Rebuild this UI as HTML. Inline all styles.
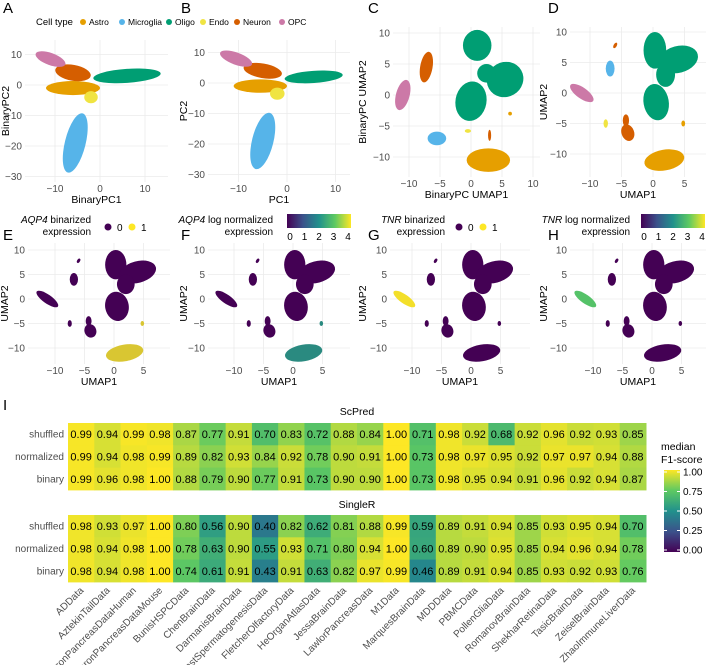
<!DOCTYPE html>
<html><head><meta charset="utf-8"><style>
body{margin:0;background:#fff}
svg{display:block;font-family:"Liberation Sans",Arial,sans-serif}
.tk{font-size:10px;fill:#4d4d4d}
.at{font-size:10.5px;fill:#000}
.pl{font-size:15px;fill:#000}
</style></head><body>
<svg id="fig" width="708" height="665" viewBox="0 0 708 665" xmlns="http://www.w3.org/2000/svg">
<g id="topg"></g><g id="mid"></g><g id="heat"></g>
</svg>
<script>
const NS="http://www.w3.org/2000/svg";
const COL={Astro:"#E69F00",Microglia:"#56B4E9",Oligo:"#009E73",Endo:"#F0E442",Neuron:"#D55E00",OPC:"#CC79A7"};
const datasets=["ADData","AztekinTailData","BaronPancreasDataHuman","BaronPancreasDataMouse","BunisHSPCData","ChenBrainData","DarmanisBrainData","ErnstSpermatogenesisData","FletcherOlfactoryData","HeOrganAtlasData","JessaBrainData","LawlorPancreasData","M1Data","MarquesBrainData","MDDData","PBMCData","PollenGliaData","RomanovBrainData","ShekharRetinaData","TasicBrainData","ZeiselBrainData","ZhaoImmuneLiverData"];
const rowNames=["shuffled","normalized","binary"];
const scpredShuffled=[0.99,0.94,0.99,0.98,0.87,0.77,0.91,0.70,0.83,0.72,0.88,0.84,1.00,0.71,0.98,0.92,0.68,0.92,0.96,0.92,0.93,0.85];
const scpredNormalized=[0.99,0.94,0.98,0.99,0.89,0.82,0.93,0.84,0.92,0.78,0.90,0.91,1.00,0.73,0.98,0.97,0.95,0.92,0.97,0.97,0.94,0.88];
const scpredBinary=[0.99,0.96,0.98,1.00,0.88,0.79,0.90,0.77,0.91,0.73,0.90,0.90,1.00,0.73,0.98,0.95,0.94,0.91,0.96,0.92,0.94,0.87];
const singlerShuffled=[0.98,0.93,0.97,1.00,0.80,0.56,0.90,0.40,0.82,0.62,0.81,0.88,0.99,0.59,0.89,0.91,0.94,0.85,0.93,0.95,0.94,0.70];
const singlerNormalized=[0.98,0.94,0.98,1.00,0.78,0.63,0.90,0.55,0.93,0.71,0.80,0.94,1.00,0.60,0.89,0.90,0.95,0.85,0.94,0.96,0.94,0.78];
const singlerBinary=[0.98,0.94,0.98,1.00,0.74,0.61,0.91,0.43,0.91,0.63,0.82,0.97,0.99,0.46,0.89,0.91,0.94,0.85,0.93,0.92,0.93,0.76];
const legendTicks=[0,0.25,0.5,0.75,1];
const pcaCx=[-5.5,-6,-2,6,-6,-11];
const pcaCy=[-19,-1,-4,3,4,8.5];
const pcaRx=[2.3,6,1.5,7.5,4,3.5];
const pcaRy=[10,2.3,2,2.3,2.6,2];
const pcaAng=[-14,0,0,4,-10,-20];
const pcaType=["Microglia","Astro","Endo","Oligo","Neuron","OPC"];
const pcaBCx=[-5,-5.5,-2,5.5,-5,-10.5];
const pcaBCy=[-19,-1,-3.5,2,4,8];
const pcaBRx=[2.2,5.5,1.5,6,4,3.5];
const pcaBRy=[9.5,2.2,2,2,2.4,2];
const umapCx=[0.3,4,0.5,2,1.8,-11.3,-6.8,-4,-4.3,-7.5,-6,4.8];
const umapCy=[7,5.5,-1.5,3,-11,0,4,-6.5,-4.5,-5,7.8,-5];
const umapRx=[1.8,3.2,2,1.5,3.2,2.2,0.7,1,0.5,0.35,0.25,0.3];
const umapRy=[3,2.2,3,2,1.7,0.9,1.3,1.4,1,0.7,0.5,0.5];
const umapAng=[0,15,10,0,10,-35,0,20,0,0,-30,0];
const umapType=["Oligo","Oligo","Oligo","Oligo","Astro","OPC","Microglia","Neuron","Neuron","Endo","Neuron","Astro"];
const bumapCx=[1,5.5,0,2.5,2.8,-11,-7.2,-5.5,-0.5,3,6.3];
const bumapCy=[8,2.5,-1,3.5,-10.5,0,4.5,-7,-5.8,-6.5,-3];
const bumapRx=[2.3,3,2.5,1.5,3.5,1.1,1,1.5,0.5,0.25,0.3];
const bumapRy=[2.5,2.8,3.2,1.5,1.9,2.5,2.5,1.1,0.3,0.9,0.3];
const bumapAng=[0,30,-10,0,0,-15,-10,0,0,0,0];
const bumapType=["Oligo","Oligo","Oligo","Oligo","Astro","OPC","Neuron","Microglia","Endo","Neuron","Astro"];
const cellTypes=["Astro","Microglia","Oligo","Endo","Neuron","OPC"];

function el(tag,attrs,parent,txt){const e=document.createElementNS(NS,tag);for(const k in attrs)e.setAttribute(k,attrs[k]);if(txt!==undefined)e.textContent=txt;parent.appendChild(e);return e;}
const VIR=[[68,1,84],[59,82,139],[33,145,140],[94,201,98],[253,231,37]];
function viridis(t){t=Math.max(0,Math.min(1,t));const s=t*4,i=Math.min(3,Math.floor(s)),f=s-i;const a=VIR[i],b=VIR[i+1];return `rgb(${a.map((v,k)=>Math.round(v+(b[k]-v)*f)).join(",")})`;}

function panel(g,cfg){
  const sx=v=>cfg.x0+v*cfg.xs, sy=v=>cfg.y0-v*cfg.ys;
  const grid=el("g",{},g);
  
  
  cfg.xt.forEach(v=>{el("line",{x1:sx(v),x2:sx(v),y1:cfg.ptop,y2:cfg.bot,stroke:"#ebebeb","stroke-width":0.8},grid);
    const t=el("text",{x:sx(v),y:cfg.bot+10,"text-anchor":"middle",class:"tk"},g,String(v).replace("-","−"));
    });
  cfg.yt.forEach(v=>{el("line",{x1:cfg.left,x2:cfg.right,y1:sy(v),y2:sy(v),stroke:"#ebebeb","stroke-width":0.8},grid);
    const t=el("text",{x:cfg.left-3,y:sy(v)+3.5,"text-anchor":"end",class:"tk"},g,String(v).replace("-","−"));
    });
  const xt=el("text",{x:(cfg.left+cfg.right)/2,y:cfg.bot+21,"text-anchor":"middle",class:"at"},g,cfg.xl);
  
  const yx=cfg.ylx, yy=(cfg.ptop+cfg.bot)/2;
  const yt=el("text",{x:yx,y:yy,"text-anchor":"middle",class:"at",transform:`rotate(-90 ${yx} ${yy})`},g,cfg.yl);
  
  const L=el("text",{x:cfg.lx,y:cfg.ly,class:"pl"},g,cfg.letter);
  
  const pts=el("g",{},g);
  
  const c=cfg.cl;
  for(let i=0;i<c.cx.length;i++){
    const px=sx(c.cx[i]),py=sy(c.cy[i]);
    const e=el("ellipse",{cx:px,cy:py,rx:c.rx[i]*cfg.xs,ry:c.ry[i]*cfg.ys,fill:cfg.fill(c.type[i]),transform:`rotate(${-c.ang[i]} ${px} ${py})`},pts);
    
    
  }
}
const topG=document.getElementById("topg"), midG=document.getElementById("mid");
const ctFill=t=>COL[t];
const pcaA={cx:pcaCx,cy:pcaCy,rx:pcaRx,ry:pcaRy,ang:pcaAng,type:pcaType};
const pcaB={cx:pcaBCx,cy:pcaBCy,rx:pcaBRx,ry:pcaBRy,ang:pcaAng,type:pcaType};
const um={cx:umapCx,cy:umapCy,rx:umapRx,ry:umapRy,ang:umapAng,type:umapType};
const bum={cx:bumapCx,cy:bumapCy,rx:bumapRx,ry:bumapRy,ang:bumapAng,type:bumapType};
panel(topG,{name:"panel-a",x0:100,xs:4.5,y0:85,ys:3.05,left:25,right:168,ptop:40,bot:182,xt:[-10,0,10],yt:[10,0,-10,-20,-30],xl:"BinaryPC1",yl:"BinaryPC2",ylx:9,letter:"A",lx:3,ly:13,cl:pcaA,fill:ctFill});
panel(topG,{name:"panel-b",x0:287,xs:4.85,y0:83,ys:3.05,left:208,right:350,ptop:40,bot:182,xt:[-10,0,10],yt:[10,0,-10,-20,-30],xl:"PC1",yl:"PC2",ylx:187,letter:"B",lx:181,ly:13,cl:pcaB,fill:ctFill});
panel(topG,{name:"panel-c",x0:471,xs:6.2,y0:95,ys:6.2,left:393,right:540,ptop:27,bot:177,xt:[-10,-5,0,5,10],yt:[10,5,0,-5,-10],xl:"BinaryPC UMAP1",yl:"BinaryPC UMAP2",ylx:366,letter:"C",lx:368,ly:13,cl:bum,fill:ctFill});
panel(topG,{name:"panel-d",x0:653,xs:6.3,y0:93,ys:6.1,left:570,right:706,ptop:27,bot:177,xt:[-10,-5,0,5],yt:[10,5,0,-5,-10],xl:"UMAP1",yl:"UMAP2",ylx:547,letter:"D",lx:548,ly:13,cl:um,fill:ctFill});
(function(){const lg=el("g",{},topG);

el("text",{x:36,y:25,"font-size":"9.5px",fill:"#000"},lg,"Cell type");
const xs=[83,122,169,203,237,282];
cellTypes.forEach((t,i)=>{const c=el("circle",{cx:xs[i],cy:22,r:3,fill:COL[t]},lg);

el("text",{x:xs[i]+6,y:25,"font-size":"8.5px",fill:"#000"},lg,t);});})();
const P="#440154";
const fE=t=>t==="Astro"?"#d9c632":P, fF=t=>t==="Astro"?"#2a8a80":P, fG=t=>t==="OPC"?"#f3df2a":P, fH=t=>t==="OPC"?"#55c268":P;
const mcfg=(name,x0,left,right,ylx,letter,lx,fill)=>({name,x0,xs:5.9,y0:299,ys:4.9,left,right,ptop:243,bot:364,xt:[-10,-5,0,5],yt:[10,5,0,-5,-10],xl:"UMAP1",yl:"UMAP2",ylx,letter,lx,ly:240,cl:um,fill});
panel(midG,mcfg("panel-e",114,28,170,8,"E",3,fE));
panel(midG,mcfg("panel-f",293,208,350,187,"F",181,fF));
panel(midG,mcfg("panel-g",471,390,530,366,"G",368,fG));
panel(midG,mcfg("panel-h",652,570,706,547,"H",548,fH));
function binLeg(xr,gene,dx){const g=el("g",{},midG);

const t=el("text",{x:xr,y:223,"text-anchor":"end",class:"tk",style:"fill:#000"},g);
el("tspan",{"font-style":"italic"},t,gene);el("tspan",{},t," binarized");
el("text",{x:xr,y:235,"text-anchor":"end",class:"tk",style:"fill:#000"},g,"expression");
el("circle",{cx:dx,cy:227,r:3.5,fill:P},g);el("text",{x:dx+9,y:231,class:"tk",style:"fill:#000"},g,"0");
el("circle",{cx:dx+24,cy:227,r:3.5,fill:"#FDE725"},g);el("text",{x:dx+33,y:231,class:"tk",style:"fill:#000"},g,"1");}
function conLeg(xr,gene,bx,bw){const g=el("g",{},midG);

const t=el("text",{x:xr,y:223,"text-anchor":"end",class:"tk",style:"fill:#000"},g);
el("tspan",{"font-style":"italic"},t,gene);el("tspan",{},t," log normalized");
el("text",{x:xr,y:235,"text-anchor":"end",class:"tk",style:"fill:#000"},g,"expression");
const id="gr"+gene;const d=el("defs",{},g);const lgr=el("linearGradient",{id},d);
VIR.forEach((c,i)=>el("stop",{offset:(i*25)+"%","stop-color":`rgb(${c})`},lgr));
el("rect",{x:bx,y:214,width:bw,height:14,fill:`url(#${id})`},g);
[0,1,2,3,4].forEach(v=>el("text",{x:bx+3+v*(bw-6)/4,y:240,"text-anchor":"middle",class:"tk",style:"fill:#000"},g,String(v)));}
binLeg(91,"AQP4",108);conLeg(273,"AQP4",287,64);binLeg(445,"TNR",459);conLeg(630,"TNR",641,64);
const heat=document.getElementById("heat");
const HX0=68,HX1=646,CW=(HX1-HX0)/datasets.length,RH=22.3;
const blocks=[{title:"ScPred",ty:415,btop:423,rows:[scpredShuffled,scpredNormalized,scpredBinary]},
              {title:"SingleR",ty:508,btop:515,rows:[singlerShuffled,singlerNormalized,singlerBinary]}];
const IL=el("text",{x:3,y:410,class:"pl"},heat,"I");


blocks.forEach(b=>{const g=el("g",{},heat);

el("text",{x:(HX0+HX1)/2,y:b.ty,"text-anchor":"middle",class:"at"},g,b.title);
b.rows.forEach((row,r)=>{const y=b.btop+r*RH;
 el("text",{x:HX0-4,y:y+RH/2+3.5,"text-anchor":"end",class:"tk"},g,rowNames[r]);
 row.forEach((v,c)=>{const x=HX0+c*CW;
  const rc=el("rect",{x:x,y:y,width:CW+0.5,height:RH+0.5,fill:viridis(v)},g);
  
  el("text",{x:x+CW/2,y:y+RH/2+4,"text-anchor":"middle","font-size":"11px",fill:"#000"},g,v.toFixed(2));});});});
datasets.forEach((d,c)=>{const x=HX0+c*CW+CW/2+3,y=591;
 const t=el("text",{x,y,"text-anchor":"end",class:"tk",transform:`rotate(-45 ${x} ${y})`},heat,d);
 });
(function(){const g=el("g",{},heat);

el("text",{x:661,y:450,class:"at"},g,"median");el("text",{x:661,y:463,class:"at"},g,"F1-score");
const d=el("defs",{},g);const lgr=el("linearGradient",{id:"hv",x1:0,y1:1,x2:0,y2:0},d);
VIR.forEach((c,i)=>el("stop",{offset:(i*25)+"%","stop-color":`rgb(${c})`},lgr));
const by0=472,by1=550;
el("rect",{x:664,y:by0-2,width:16,height:by1-by0+4,fill:"url(#hv)"},g);
legendTicks.forEach(v=>{const y=by1-v*(by1-by0);
 el("line",{x1:664,x2:667,y1:y,y2:y,stroke:"#fff"},g);el("line",{x1:677,x2:680,y1:y,y2:y,stroke:"#fff"},g);
 el("text",{x:683,y:y+3.5,class:"tk",style:"fill:#000"},g,v.toFixed(2));});})();
</script>
</body></html>
